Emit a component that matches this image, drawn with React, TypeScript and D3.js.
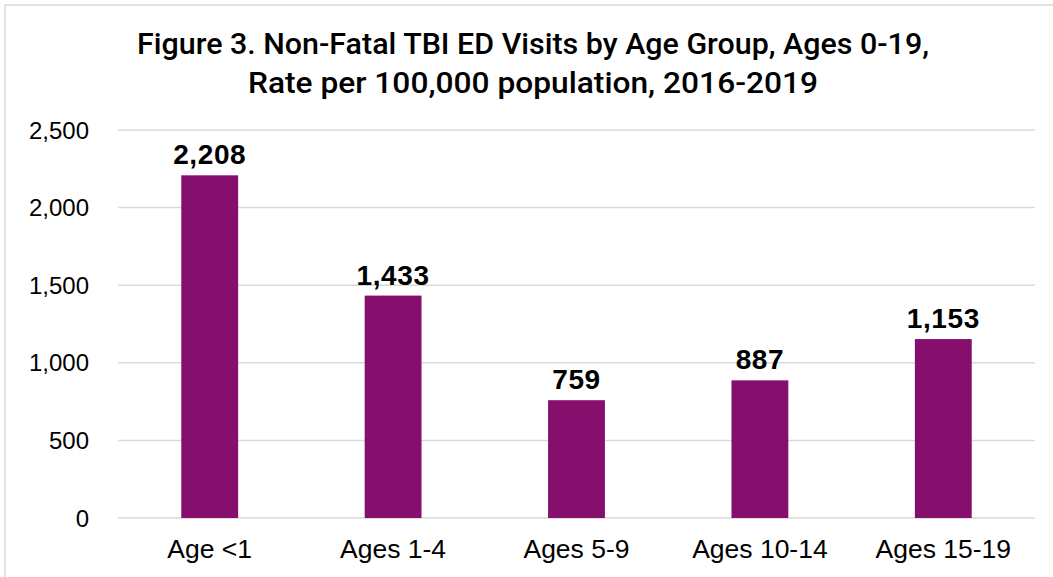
import React from "react";
import * as d3 from "d3";

const categories: string[] = ["Age <1", "Ages 1-4", "Ages 5-9", "Ages 10-14", "Ages 15-19"];
const rates: number[] = [2208, 1433, 759, 887, 1153];
const yTicks: number[] = [0, 500, 1000, 1500, 2000, 2500];
const titleLines: string[] = [
  "Figure 3. Non-Fatal TBI ED Visits by Age Group, Ages 0-19,",
  "Rate per 100,000 population, 2016-2019",
];

const W = 1053;
const H = 577;
const plot = { left: 118, right: 1035, top: 130, bottom: 518 };
const BAR_COLOR = "#860f6e";
const GRID_COLOR = "#d9d9d9";
// rendered widths of the two title lines
const titleWidths = [792, 570];

export default function App() {
  const x = d3
    .scaleBand<string>()
    .domain(categories)
    .range([plot.left, plot.right])
    .paddingInner(0.69)
    .paddingOuter(0.345);
  const y = d3.scaleLinear().domain([0, 2500]).range([plot.bottom, plot.top]);
  const fmt = d3.format(",");

  return (
    <svg
      width={W}
      height={H}
      style={{ position: "absolute", left: 0, top: 0, display: "block", background: "#fff" }}
    >
      <rect x={5} y={5} width={W + 10} height={H + 10} fill="#fff" stroke={GRID_COLOR} strokeWidth={1.5} />
      <g fontFamily="'Roboto', 'Liberation Sans', sans-serif" fontWeight={500} fontSize={29} fill="#000" textAnchor="middle">
        {titleLines.map((t, i) => (
          <text
            key={i}
            x={533}
            y={54 + i * 39}
            textLength={titleWidths[i]}
            lengthAdjust="spacingAndGlyphs"
          >
            {t}
          </text>
        ))}
      </g>
      {yTicks.map((t) => (
        <g key={t}>
          <line x1={plot.left} x2={plot.right} y1={y(t)} y2={y(t)} stroke={GRID_COLOR} strokeWidth={1.5} />
          <text
            x={89}
            y={y(t) + 8.5}
            textAnchor="end"
            fontFamily="'Liberation Sans', Arial, sans-serif"
            fontSize={24}
            fill="#000"
          >
            {fmt(t)}
          </text>
        </g>
      ))}
      {categories.map((c, i) => {
        const bx = x(c)!;
        const bw = x.bandwidth();
        const v = rates[i];
        return (
          <g key={c}>
            <rect x={bx} y={y(v)} width={bw} height={y(0) - y(v)} fill={BAR_COLOR} />
            <text
              x={bx + bw / 2}
              y={y(v) - 11}
              textAnchor="middle"
              fontFamily="'Liberation Sans', Arial, sans-serif"
              fontWeight="bold"
              fontSize={28}
              letterSpacing={0.6}
              fill="#000"
            >
              {fmt(v)}
            </text>
            <text
              x={bx + bw / 2}
              y={558}
              textAnchor="middle"
              fontFamily="'Liberation Sans', Arial, sans-serif"
              fontSize={26.5}
              fill="#000"
            >
              {c}
            </text>
          </g>
        );
      })}
    </svg>
  );
}
